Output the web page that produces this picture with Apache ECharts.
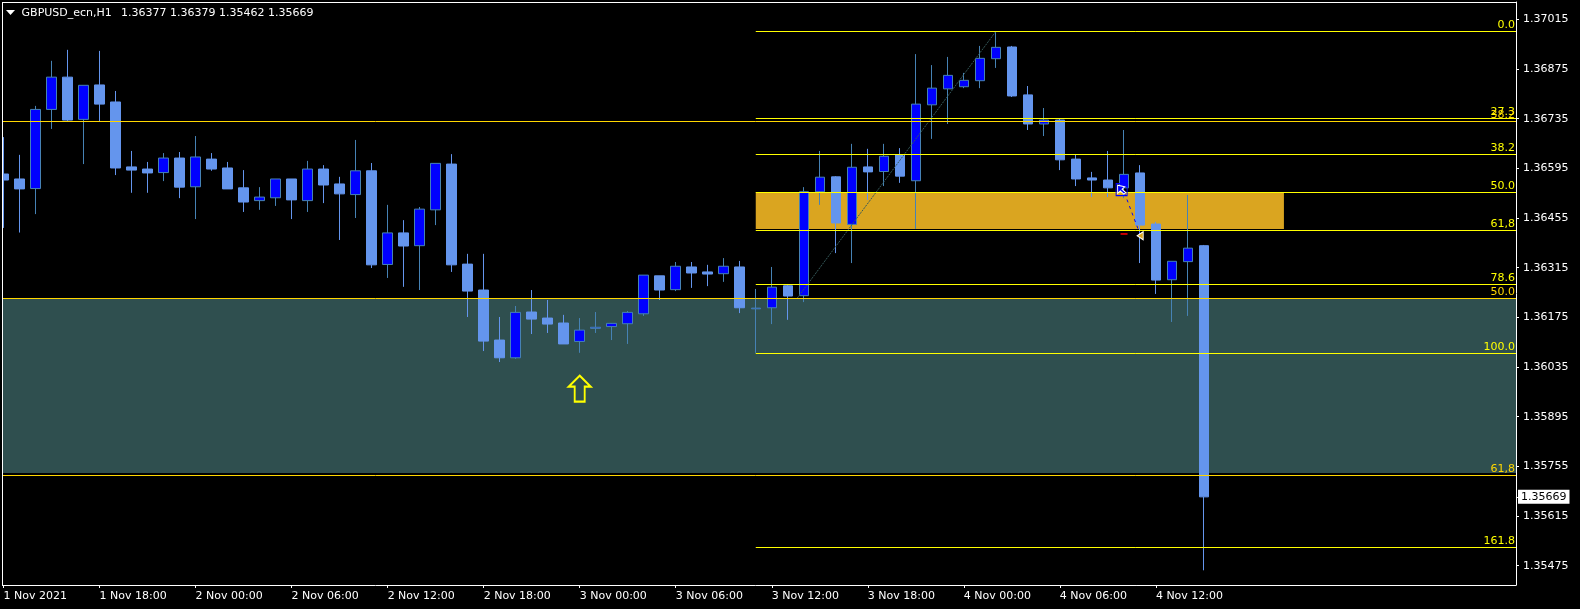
<!DOCTYPE html>
<html>
<head>
<meta charset="utf-8">
<style>html,body{margin:0;padding:0;background:#000;overflow:hidden;width:1580px;height:609px}#c{position:absolute;left:-8px;top:0;width:1588px;height:609px}</style>
<script src="https://cdn.jsdelivr.net/npm/echarts@6/dist/echarts.min.js"></script>
</head>
<body>
<div id="c"></div>
<script>
// open, close, low, high
var candles = [
[1.36579,1.36562,1.36427,1.36683],[1.36565,1.36537,1.36414,1.36633],[1.36538,1.36761,1.36466,1.36771],[1.36761,1.36852,1.36706,1.36898],
[1.36852,1.36731,1.36728,1.36929],[1.36733,1.36829,1.36607,1.36829],[1.3683,1.36776,1.36728,1.36926],[1.36782,1.36596,1.36576,1.36813],
[1.36599,1.3659,1.36526,1.36644],[1.36593,1.36582,1.36526,1.36613],[1.36583,1.36624,1.36559,1.36638],[1.36624,1.36542,1.36511,1.36641],
[1.36543,1.36627,1.36452,1.36686],[1.36621,1.36593,1.36588,1.36638],[1.36596,1.36537,1.36537,1.36613],[1.3654,1.365,1.36472,1.3659],
[1.36504,1.36514,1.36478,1.36542],[1.36512,1.36565,1.36489,1.36565],[1.36565,1.36506,1.36452,1.36565],[1.36504,1.36593,1.36472,1.36616],
[1.36593,1.36548,1.36497,1.36604],[1.36551,1.36523,1.36393,1.36571],[1.36521,1.36588,1.36455,1.36675],[1.36588,1.36323,1.36314,1.3661],
[1.36324,1.36413,1.36286,1.36492],[1.36413,1.36376,1.36261,1.36449],[1.36377,1.3648,1.36252,1.36486],[1.36478,1.36609,1.36435,1.36609],
[1.36607,1.36323,1.36303,1.36635],[1.36325,1.36249,1.36176,1.36354],[1.36252,1.36108,1.3608,1.36354],[1.36111,1.36061,1.36049,1.36176],
[1.36061,1.36189,1.36058,1.36207],[1.3619,1.3617,1.36128,1.36252],[1.36173,1.36156,1.36131,1.36224],[1.36159,1.361,1.361,1.36182],
[1.36107,1.36139,1.36075,1.36173],[1.36144,1.36147,1.36131,1.3619],[1.36149,1.36158,1.36111,1.36159],[1.36157,1.36189,1.361,1.36193],
[1.36185,1.36294,1.36179,1.36294],[1.36292,1.36252,1.36224,1.36292],[1.36253,1.36319,1.36249,1.36331],[1.36317,1.363,1.36258,1.36331],
[1.36303,1.36297,1.36263,1.36323],[1.36298,1.36319,1.36275,1.36342],[1.36317,1.36202,1.36187,1.36334],[1.36199,1.36201,1.36075,1.36255],
[1.36202,1.3626,1.36156,1.36317],[1.36264,1.36235,1.36168,1.36269],[1.36236,1.36529,1.36218,1.36542],[1.36529,1.3657,1.36492,1.36644],
[1.36571,1.36441,1.36356,1.36573],[1.36437,1.36598,1.36328,1.36664],[1.36599,1.36585,1.36506,1.3665],[1.36586,1.36629,1.36545,1.36664],
[1.36633,1.36573,1.36554,1.36652],[1.3656,1.36776,1.36424,1.36917],[1.36774,1.36821,1.36678,1.36886],[1.36819,1.36857,1.3672,1.36909],
[1.36825,1.36843,1.36821,1.36864],[1.36842,1.36905,1.36821,1.3694],[1.36904,1.36936,1.36878,1.36981],[1.36937,1.36799,1.36796,1.3694],
[1.36802,1.3672,1.36703,1.36827],[1.3672,1.36731,1.36686,1.36765],[1.36731,1.36619,1.3659,1.36734],[1.36621,1.36565,1.36545,1.36633],
[1.36568,1.36562,1.36514,1.36585],[1.36562,1.3654,1.36514,1.36644],[1.3654,1.36578,1.36511,1.36703],[1.36582,1.36435,1.36328,1.36604],
[1.36438,1.3628,1.36241,1.36444],[1.36281,1.36333,1.36162,1.36333],[1.36332,1.3637,1.36179,1.3652],[1.36377,1.35669,1.35462,1.36379]
];
var timeLabels = ['1 Nov 2021','1 Nov 18:00','2 Nov 00:00','2 Nov 06:00','2 Nov 12:00','2 Nov 18:00','3 Nov 00:00','3 Nov 06:00','3 Nov 12:00','3 Nov 18:00','4 Nov 00:00','4 Nov 06:00','4 Nov 12:00'];
var priceTicks = [1.37015,1.36875,1.36735,1.36595,1.36455,1.36315,1.36175,1.36035,1.35895,1.35755,1.35615,1.35475];
var lastPrice = 1.35669;
var yellowLevels = [1.369807,1.367355,1.36634,1.365269,1.364198,1.362676,1.360731,1.355263];
var yellowNames = ['0.0','27.3','38.2','50.0','61,8','78.6','100.0','161.8'];
var goldLevels = [1.36727,1.362281,1.357292];
var goldNames = ['38.2','50.0','61,8'];
var tealZone = [1.362281,1.357363];
var orangeZone = [1.365269,1.36424];
var trendLine = [[49.6,1.362296],[62,1.369807]];
var tradeLine = [[70.04,1.365255],[70.98,1.364128]];
var yellowFont = '#FFFF00', goldFont = '#FFD700';
var FONT = 'DejaVu Sans';

var slots = 95, categories = [];
for (var i = 0; i < slots; i++) {
  categories.push(i % 6 === 0 && timeLabels[i / 6] ? timeLabels[i / 6] : '');
}
function hasLabel(idx, val) { return val !== ''; }

var fibLines = [];
function addFib(levels, names, start, color) {
  levels.forEach(function (p, k) {
    fibLines.push([
      {xAxis: start, yAxis: p, lineStyle: {color: color, width: 1, type: 'solid'},
       label: {show: true, position: 'insideEndTop', formatter: names[k], color: color, fontFamily: FONT, fontSize: 11, distance: 1}},
      {xAxis: 94.5, yAxis: p}
    ]);
  });
}
addFib(yellowLevels, yellowNames, 47, yellowFont);
addFib(goldLevels, goldNames, -0.5, goldFont);

var chart = echarts.init(document.getElementById('c'), null, {renderer: 'canvas'});
chart.setOption({
  animation: false,
  backgroundColor: '#000',
  title: {
    left: 29.6, top: 8, padding: 0,
    text: 'GBPUSD_ecn,H1 \u2009 1.36377 1.36379 1.35462 1.35669',
    textStyle: {color: '#fff', fontFamily: FONT, fontSize: 11, fontWeight: 'normal'}
  },
  grid: {left: 3.5, top: 2, width: 1520.5, height: 583, containLabel: false},
  xAxis: [
    {type: 'category', data: categories, boundaryGap: true,
     axisLine: {onZero: false, lineStyle: {color: '#fff', width: 1}},
     axisTick: {show: true, alignWithLabel: true, interval: hasLabel, length: 3, lineStyle: {color: '#fff'}},
     axisLabel: {interval: hasLabel, align: 'left', color: '#fff', fontFamily: FONT, fontSize: 11, margin: 6, hideOverlap: false},
     splitLine: {show: false}},
    {type: 'value', min: -0.5, max: 94.5, show: false, splitLine: {show: false}}
  ],
  yAxis: {
    type: 'value', position: 'right', min: 1.354206, max: 1.370638, scale: true,
    axisLine: {show: true, onZero: false, lineStyle: {color: '#fff', width: 1}},
    axisTick: {show: true, length: 3, lineStyle: {color: '#fff'}, customValues: priceTicks.concat([lastPrice])},
    axisLabel: {color: '#fff', fontFamily: FONT, fontSize: 11, margin: 7, customValues: priceTicks,
      formatter: function (v) { return v.toFixed(5); }},
    splitLine: {show: false}
  },
  series: [
    {type: 'candlestick', name: 'GBPUSD_ecn,H1', xAxisIndex: 0, data: candles, barWidth: 10, z: 2,
     itemStyle: {color: '#0000FF', color0: '#6495ED', borderColor: '#4682B4', borderColor0: '#6495ED', borderWidth: 1}},
    {type: 'line', name: 'fib', xAxisIndex: 1, data: trendLine, showSymbol: false, symbol: 'none', z: 3, silent: true,
     lineStyle: {color: '#35595A', width: 1, type: [2, 1]},
     markArea: {silent: true, z: 1, label: {show: false}, data: [
       [{xAxis: -0.5, yAxis: tealZone[0], itemStyle: {color: '#2F4F4F', opacity: 1}}, {xAxis: 94.5, yAxis: tealZone[1]}],
       [{xAxis: 47, yAxis: orangeZone[0], itemStyle: {color: '#DAA520', opacity: 1}}, {xAxis: 80, yAxis: orangeZone[1]}]
     ]},
     markLine: {silent: true, symbol: ['none', 'none'], animation: false, data: fibLines.concat([
       [{xAxis: -0.5, yAxis: lastPrice, lineStyle: {color: 'rgba(0,0,0,0)', width: 0},
         label: {show: true, position: 'end', distance: 2, formatter: '1.35669', color: '#000', backgroundColor: '#fff',
                 padding: [2, 3, 1, 3], fontFamily: FONT, fontSize: 11}},
        {xAxis: 94.5, yAxis: lastPrice}]
     ])}},
    {type: 'line', name: 'trade', xAxisIndex: 1, data: tradeLine, symbol: 'none', z: 6, silent: true,
     lineStyle: {color: '#0000FF', width: 1, type: [3, 4]}},
    {type: 'scatter', name: 'up arrow', xAxisIndex: 1, silent: true, z: 6,
     symbol: 'path://M11 0 L22 11 L16 11 L16 26 L6 26 L6 11 L0 11 Z', symbolSize: [22, 26],
     itemStyle: {color: 'rgba(0,0,0,0)', borderColor: '#FFFF00', borderWidth: 2, opacity: 1},
     data: [[36, 1.35974]]},
    {type: 'scatter', name: 'order box', xAxisIndex: 1, silent: true, z: 6, symbol: 'rect', symbolSize: [11, 12],
     itemStyle: {color: 'rgba(0,0,0,0)', borderColor: '#0000FF', borderWidth: 1, opacity: 1},
     data: [[69.86, 1.36535]]},
    {type: 'scatter', name: 'order arrow', xAxisIndex: 1, silent: true, z: 7,
     symbol: 'path://M0 0 L0 10 L3 7 L7 11 L9 9 L5 5 L8 2 Z', symbolSize: [8, 9],
     itemStyle: {color: '#0000FF', borderColor: '#fff', borderWidth: 1, opacity: 1},
     data: [[69.86, 1.36535]]},
    {type: 'scatter', name: 'close arrow', xAxisIndex: 1, silent: true, z: 7,
     symbol: 'path://M10 0 L10 12 L0 6 Z', symbolSize: [6, 8],
     itemStyle: {color: '#DAA520', borderColor: '#fff', borderWidth: 1, opacity: 1},
     data: [[71.02, 1.36405]]},
    {type: 'scatter', name: 'close mark', xAxisIndex: 1, silent: true, z: 7, symbol: 'rect', symbolSize: [7, 1.5],
     itemStyle: {color: '#FF0000', opacity: 1},
     data: [[70.01, 1.3641]]}
  ],
  graphic: [
    {type: 'rect', z: 100, shape: {x: 0, y: 0, width: 10, height: 609}, style: {fill: '#000'}, silent: true},
    {type: 'rect', z: 101, shape: {x: 10, y: 2, width: 1, height: 584}, style: {fill: '#fff'}, silent: true},
    {type: 'rect', z: 101, shape: {x: 10, y: 2, width: 1514, height: 1}, style: {fill: '#fff'}, silent: true},
    {type: 'polygon', z: 101, shape: {points: [[14, 10], [23, 10], [18.5, 15]]}, style: {fill: '#fff'}, silent: true}
  ]
});
</script>
</body>
</html>
